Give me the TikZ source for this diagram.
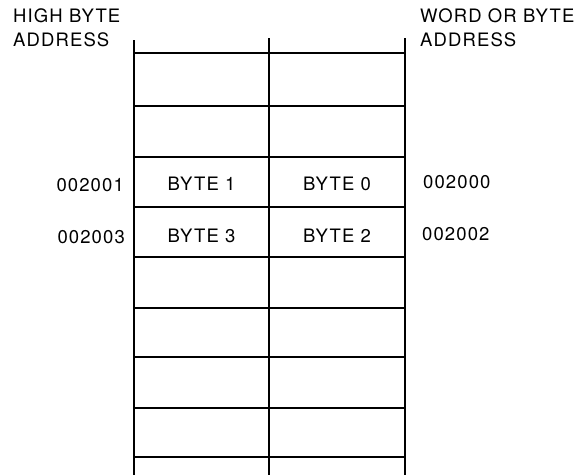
\documentclass[tikz,border=0pt]{standalone}
\usepackage{fontspec}
\setmainfont{TeX Gyre Heros}[LetterSpace=6]
\begin{document}
\begin{tikzpicture}[x=1pt,y=-1pt,
  lbl/.style={inner sep=0pt,font=\fontsize{18.5}{22}\selectfont},
  vline/.style={line width=2.8pt},
  hline/.style={line width=1.8pt}]
\useasboundingbox (0,0) rectangle (577,475);
% verticals
\coordinate (lt) at (134,40); \coordinate (lb) at (134,475);
\coordinate (mt) at (269,38); \coordinate (mb) at (269,475);
\coordinate (rt) at (405,38); \coordinate (rb) at (405,475);
\draw[vline] (lt) -- (lb);
\draw[vline] (mt) -- (mb);
\draw[vline] (rt) -- (rb);
% horizontals
\foreach \y/\n in {53/1,106/2,157/3,207/4,257/5,308/6,357/7,408/8,457/9}{
  \coordinate (hl\n) at (134,\y); \coordinate (hr\n) at (405,\y);
  \draw[hline] (hl\n) -- (hr\n);
}
% headers
\node[lbl,anchor=base west] (hb1) at (13,22) {HIGH BYTE};
\node[lbl,anchor=base west] (hb2) at (13,46.5) {ADDRESS};
\node[lbl,anchor=base west] (wb1) at (420,22) {WORD OR BYTE};
\node[lbl,anchor=base west] (wb2) at (420,46.5) {ADDRESS};
% cells
\node[lbl,anchor=base] (b1) at (201.5,190) {BYTE 1};
\node[lbl,anchor=base] (b0) at (337,190) {BYTE 0};
\node[lbl,anchor=base] (b3) at (201.5,242) {BYTE 3};
\node[lbl,anchor=base] (b2) at (337,242) {BYTE 2};
% addresses
\node[lbl,anchor=base east] (a1) at (124,191) {002001};
\node[lbl,anchor=base east] (a3) at (125,243) {002003};
\node[lbl,anchor=base west] (a0) at (423,188) {002000};
\node[lbl,anchor=base west] (a2) at (422,240) {002002};
\end{tikzpicture}
\end{document}
